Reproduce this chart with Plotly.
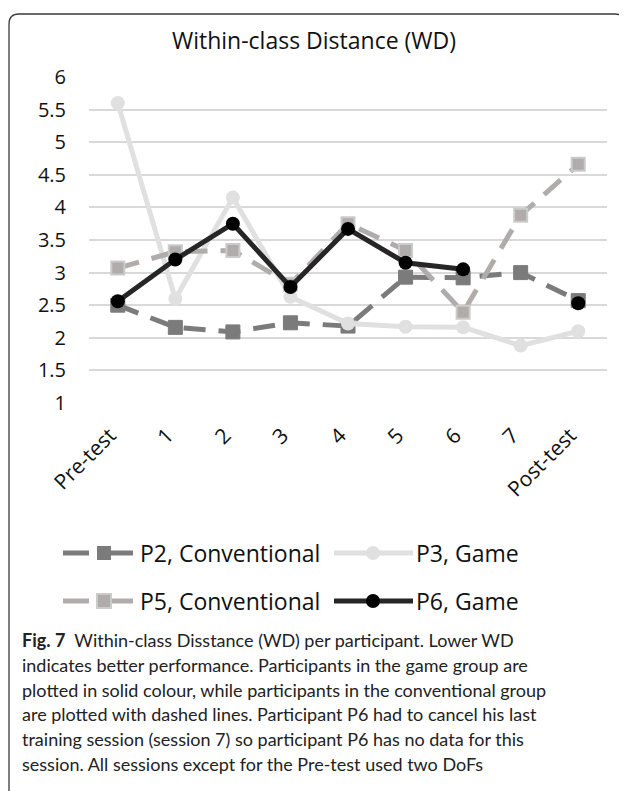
import plotly.graph_objects as go

# ---------------- data ----------------
categories = ["Pre-test", "1", "2", "3", "4", "5", "6", "7", "Post-test"]
p2_conventional = [2.50, 2.16, 2.09, 2.23, 2.18, 2.93, 2.92, 3.00, 2.57]
p3_game = [5.60, 2.60, 4.15, 2.63, 2.22, 2.17, 2.16, 1.88, 2.10]
p5_conventional = [3.07, 3.32, 3.34, 2.82, 3.75, 3.34, 2.39, 3.88, 4.66]
p6_game = [2.56, 3.20, 3.75, 2.78, 3.67, 3.15, 3.05, None, 2.53]
y_tick_values = [1, 1.5, 2, 2.5, 3, 3.5, 4, 4.5, 5, 5.5, 6]
y_tick_labels = ["1", "1.5", "2", "2.5", "3", "3.5", "4", "4.5", "5", "5.5", "6"]
series_names = ["P2, Conventional", "P3, Game", "P5, Conventional", "P6, Game"]
chart_title = "Within-class Distance (WD)"
caption_lines = [
    "<b>Fig. 7</b>  Within-class Disstance (WD) per participant. Lower WD",
    "indicates better performance. Participants in the game group are",
    "plotted in solid colour, while participants in the conventional group",
    "are plotted with dashed lines. Participant P6 had to cancel his last",
    "training session (session 7) so participant P6 has no data for this",
    "session. All sessions except for the Pre-test used two DoFs",
]

# ---------------- geometry (window pixels; page body has an 8px margin) ----------------
OFF = 8
W, H = 627 - OFF, 791 - OFF
WX0, WX1 = 89, 607       # plot area in window px
WY_TOP, WY_BOT = 77, 403
FONT = "Open Sans"
CAP_FONT = "Lato"


def xp(px):
    return (px - WX0) / (WX1 - WX0)


def yp(py):
    return (WY_BOT - py) / (WY_BOT - WY_TOP)


C_P2 = "#7b7b7b"
C_P3 = "#e0e0e0"
C_P5 = "#b0acab"
C_P5_EDGE = "#cbcbcb"
C_P6 = "#262626"

fig = go.Figure()

fig.add_trace(go.Scatter(
    x=categories, y=p2_conventional, mode="lines+markers", name=series_names[0],
    line=dict(color=C_P2, width=5, dash="22px,13px"),
    marker=dict(symbol="square", size=14, color=C_P2, line=dict(color=C_P2, width=1)),
))
fig.add_trace(go.Scatter(
    x=categories, y=p3_game, mode="lines+markers", name=series_names[1],
    line=dict(color=C_P3, width=5),
    marker=dict(symbol="circle", size=14, color=C_P3, line=dict(color=C_P3, width=0)),
))
fig.add_trace(go.Scatter(
    x=categories, y=p5_conventional, mode="lines+markers", name=series_names[2],
    line=dict(color=C_P5, width=5, dash="22px,13px"),
    marker=dict(symbol="square", size=13, color=C_P5, line=dict(color=C_P5_EDGE, width=2)),
))
fig.add_trace(go.Scatter(
    x=categories, y=p6_game, mode="lines+markers", name=series_names[3],
    connectgaps=False,
    line=dict(color=C_P6, width=5),
    marker=dict(symbol="circle", size=14, color="#000000", line=dict(color="#000000", width=0)),
))

shapes = []
annotations = []

# ---- custom legend ----
leg_rows = [553, 601]
legend_items = [
    (0, 0, series_names[0], "sq", C_P2, C_P2),
    (0, 1, series_names[1], "ci", C_P3, C_P3),
    (1, 0, series_names[2], "sq", C_P5, C_P5_EDGE),
    (1, 1, series_names[3], "ci", C_P6, "#000000"),
]
for row, col, name, kind, color, edge in legend_items:
    cy = leg_rows[row]
    if col == 0:
        x_text = 138
        shapes.append(dict(type="line", xref="paper", yref="paper",
                           x0=xp(63), x1=xp(89), y0=yp(cy), y1=yp(cy),
                           line=dict(color=color, width=5)))
        shapes.append(dict(type="line", xref="paper", yref="paper",
                           x0=xp(111), x1=xp(133), y0=yp(cy), y1=yp(cy),
                           line=dict(color=color, width=5)))
        shapes.append(dict(type="rect", xref="paper", yref="paper",
                           x0=xp(97), x1=xp(111), y0=yp(cy + 7), y1=yp(cy - 7),
                           fillcolor=color, line=dict(color=edge, width=2 if edge != color else 0)))
    else:
        x_text = 414
        shapes.append(dict(type="line", xref="paper", yref="paper",
                           x0=xp(334), x1=xp(413), y0=yp(cy), y1=yp(cy),
                           line=dict(color=color, width=5)))
        r = 7
        shapes.append(dict(type="circle", xref="paper", yref="paper",
                           x0=xp(373 - r), x1=xp(373 + r), y0=yp(cy + r), y1=yp(cy - r),
                           fillcolor=edge, line=dict(color=edge, width=0)))
    annotations.append(dict(text=name, xref="paper", yref="paper",
                            x=xp(x_text), y=yp(cy), xanchor="left", yanchor="middle",
                            showarrow=False, font=dict(family=FONT, size=23, color="#111111")))

# ---- caption ----
cap_y0, cap_dy = 640, 24.8
for i, line in enumerate(caption_lines):
    annotations.append(dict(text=line, xref="paper", yref="paper",
                            x=xp(20), y=yp(cap_y0 + i * cap_dy), xanchor="left", yanchor="middle",
                            showarrow=False, font=dict(family=CAP_FONT, size=18, color="#222222")))

# ---- rounded frame ----
L, T, R, B, rad = 9, 14, 625, 800, 10
path = (
    f"M {xp(L)} {yp(T + rad)} Q {xp(L)} {yp(T)} {xp(L + rad)} {yp(T)} "
    f"L {xp(R - rad)} {yp(T)} Q {xp(R)} {yp(T)} {xp(R)} {yp(T + rad)} "
    f"L {xp(R)} {yp(B - rad)} Q {xp(R)} {yp(B)} {xp(R - rad)} {yp(B)} "
    f"L {xp(L + rad)} {yp(B)} Q {xp(L)} {yp(B)} {xp(L)} {yp(B - rad)} Z"
)
shapes.append(dict(type="path", xref="paper", yref="paper", path=path,
                   line=dict(color="#3a3a3a", width=1.3), layer="below"))

fig.update_layout(
    width=W, height=H,
    margin=dict(l=WX0 - OFF, r=W - (WX1 - OFF), t=WY_TOP - OFF, b=H - (WY_BOT - OFF), autoexpand=False),
    paper_bgcolor="white", plot_bgcolor="white",
    showlegend=False,
    title=dict(text=chart_title, x=(314 - OFF) / W, xanchor="center", xref="container",
               y=1 - (41 - OFF) / H, yanchor="middle", yref="container",
               font=dict(family=FONT, size=23, color="#111111")),
    xaxis=dict(
        type="category", range=[-0.5, len(categories) - 0.5],
        showgrid=False, zeroline=False, showline=False, ticks="",
        tickangle=-45, tickfont=dict(family=FONT, size=21, color="#111111"),
        ticklabelstandoff=15, ticklabelshift=-8,
    ),
    yaxis=dict(
        range=[1, 6], tickvals=y_tick_values, ticktext=y_tick_labels,
        showgrid=True, gridcolor="#d9d9d9", gridwidth=1.5,
        zeroline=False, showline=False, ticks="",
        tickfont=dict(family=FONT, size=20, color="#111111"),
        ticklabelstandoff=22,
    ),
    shapes=shapes,
    annotations=annotations,
)

fig.write_html("out.html")
